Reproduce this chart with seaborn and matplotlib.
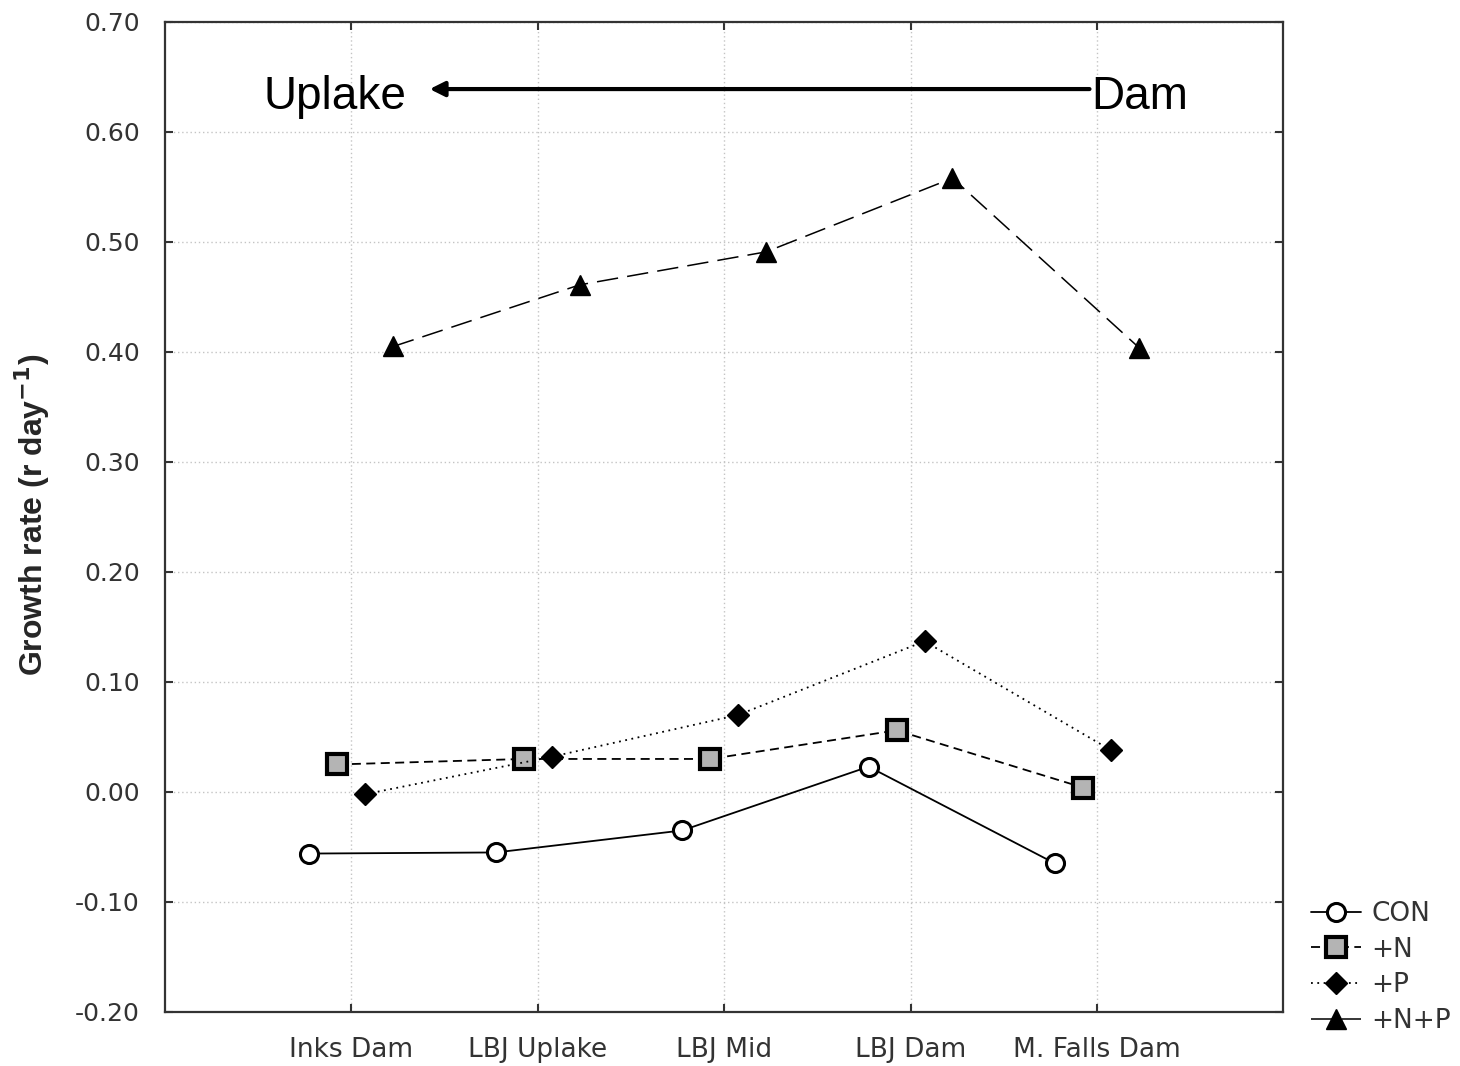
import matplotlib
matplotlib.use("Agg")
import matplotlib.pyplot as plt
import seaborn as sns
import pandas as pd
import numpy as np

sites = ["Inks Dam", "LBJ Uplake", "LBJ Mid", "LBJ Dam", "M. Falls Dam"]
treatments = ["CON", "+N", "+P", "+N+P"]
con = [-0.056, -0.055, -0.035, 0.023, -0.065]
plus_n = [0.025, 0.030, 0.030, 0.056, 0.004]
plus_p = [-0.002, 0.032, 0.070, 0.137, 0.038]
plus_np = [0.405, 0.461, 0.491, 0.558, 0.404]
yticks = [-0.20, -0.10, 0.00, 0.10, 0.20, 0.30, 0.40, 0.50, 0.60, 0.70]
ytick_labels = ["-0.20", "-0.10", "0.00", "0.10", "0.20", "0.30", "0.40", "0.50", "0.60", "0.70"]

series = {"CON": con, "+N": plus_n, "+P": plus_p, "+N+P": plus_np}
df = pd.DataFrame([
    {"site": s, "treatment": t, "rate": v}
    for t, vals in series.items() for s, v in zip(sites, vals)
])

sns.set_theme(style="white")
plt.rcParams["font.family"] = ["DejaVu Sans"]

fig = plt.figure(figsize=(14.6, 10.66), dpi=100)
ax = fig.add_axes([0.113, 0.0507, 0.766, 0.9287])

sns.pointplot(data=df, x="site", y="rate", hue="treatment", order=sites,
              hue_order=treatments, dodge=0.45, markers=["o", "s", "D", "^"],
              palette=["black"] * 4, errorbar=None, legend=False, ax=ax)

styles = {
    "CON": dict(ls="-", mfc="white", ms=13, mew=2.2, lw=1.3),
    "+N": dict(ls=(0, (5, 3)), mfc="#b4b4b4", ms=14, mew=3.0, lw=1.3),
    "+P": dict(ls=(0, (1, 2.5)), mfc="black", ms=11, mew=1, lw=1.3),
    "+N+P": dict(ls=(0, (14, 6)), mfc="black", ms=14, mew=1, lw=1.1),
}
lines = [l for l in ax.lines if len(l.get_xdata()) == len(sites)]
for line, t in zip(lines, treatments):
    st = styles[t]
    line.set_linestyle(st["ls"])
    line.set_markerfacecolor(st["mfc"])
    line.set_markeredgecolor("black")
    line.set_markersize(st["ms"])
    line.set_markeredgewidth(st["mew"])
    line.set_linewidth(st["lw"])
    line.set_color("black")
    line.set_label(t)

ax.set_xlim(-1, 5)
ax.set_ylim(-0.20, 0.70)
ax.set_yticks(yticks)
ax.set_yticklabels(ytick_labels)
ax.set_xlabel("")
ax.set_ylabel(r"Growth rate (r day$^{\mathbf{-1}}$)", fontsize=23, fontweight="bold",
              family="Liberation Sans")
ax.yaxis.set_label_coords(-0.101, 0.502)

ax.grid(True, axis="both", color="#c4c4c4", linestyle=(0, (1, 2)), linewidth=1.0)
ax.set_axisbelow(True)
for sp in ax.spines.values():
    sp.set_visible(True)
    sp.set_color("#333333")
    sp.set_linewidth(1.6)
ax.tick_params(axis="both", which="both", direction="in", length=6, width=1.5,
               color="#333333", labelsize=19, labelcolor="#333333",
               top=True, right=True, bottom=True, left=True)
ax.tick_params(axis="y", pad=18, labelsize=18)
ax.tick_params(axis="x", pad=18)

ax.annotate("", xy=(0.42, 0.639), xytext=(3.96, 0.639),
            arrowprops=dict(arrowstyle="-|>", color="black", lw=3,
                            mutation_scale=22, shrinkA=0, shrinkB=0))
ax.text(-0.09, 0.632, "Uplake", fontsize=33, family="Liberation Sans",
        ha="center", va="center", color="black")
ax.text(3.97, 0.632, "Dam", fontsize=33, family="Liberation Sans",
        ha="left", va="center", color="black")

leg = ax.legend(handles=lines, labels=treatments, loc="lower left",
                bbox_to_anchor=(1.015, -0.033), frameon=False, fontsize=19,
                handlelength=1.9, handletextpad=0.4, labelspacing=0.37,
                borderaxespad=0)
for txt in leg.get_texts():
    txt.set_color("#333333")

fig.savefig("out.png", dpi=100, facecolor="white")
